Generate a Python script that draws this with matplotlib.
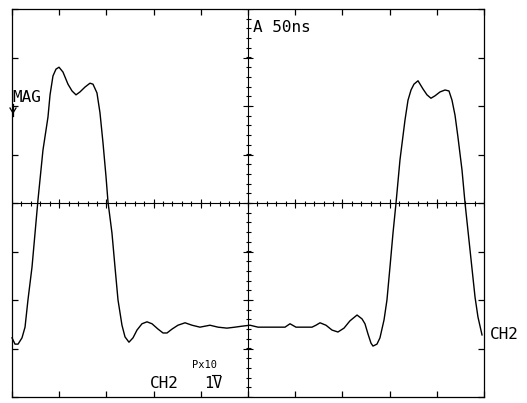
import numpy as np
import matplotlib
matplotlib.use("Agg")
import matplotlib.pyplot as plt

# Oscilloscope trace: time (ns) vs amplitude (V, 1 V/div)
t_ns = [0.0, 3.2, 6.4, 10.6, 13.8, 16.9, 21.2, 24.4, 27.5, 32.8, 38.1, 40.3, 43.4, 46.6,
        49.8, 54.0, 59.3, 63.6, 67.8, 72.0, 77.3, 82.6, 85.8, 90.0, 93.2, 96.4, 99.6,
        101.7, 105.9, 109.1, 112.3, 116.5, 119.7, 123.9, 128.2, 132.4, 137.7, 143.0,
        148.3, 154.7, 160.0, 164.2, 169.5, 175.8, 183.3, 190.7, 199.1, 204.4, 209.7,
        218.2, 227.7, 236.2, 243.6, 252.1, 260.6, 273.3, 289.2, 294.5, 300.8, 310.4,
        317.8, 322.0, 326.3, 332.6, 339.0, 345.3, 351.7, 358.0, 365.5, 370.8, 373.9,
        377.1, 380.3, 382.4, 386.6, 389.8, 394.1, 397.2, 400.4, 403.6, 406.8, 411.0,
        416.3, 419.5, 422.7, 425.8, 430.1, 435.4, 439.6, 443.8, 448.1, 453.4, 458.7,
        462.9, 466.1, 469.3, 472.4, 476.7, 479.9, 485.2, 490.5, 493.6, 497.9]
v_volts = [-2.78, -2.91, -2.91, -2.78, -2.56, -2.00, -1.32, -0.62, 0.06, 1.09, 1.77, 2.23,
           2.62, 2.76, 2.80, 2.70, 2.45, 2.31, 2.23, 2.29, 2.39, 2.47, 2.45, 2.27, 1.86,
           1.24, 0.54, 0.02, -0.62, -1.32, -2.00, -2.52, -2.76, -2.87, -2.78, -2.62,
           -2.49, -2.45, -2.49, -2.60, -2.68, -2.68, -2.60, -2.52, -2.47, -2.52, -2.56,
           -2.54, -2.52, -2.56, -2.58, -2.56, -2.54, -2.52, -2.56, -2.56, -2.56, -2.49,
           -2.56, -2.56, -2.56, -2.52, -2.47, -2.52, -2.62, -2.66, -2.58, -2.43, -2.31,
           -2.39, -2.49, -2.70, -2.89, -2.95, -2.91, -2.78, -2.41, -2.00, -1.32, -0.62,
           0.00, 0.89, 1.71, 2.12, 2.33, 2.45, 2.52, 2.35, 2.23, 2.16, 2.21, 2.29, 2.33,
           2.31, 2.12, 1.81, 1.36, 0.68, 0.00, -0.97, -1.94, -2.35, -2.72]

time_per_div = 50   # ns
volt_per_div = 1    # V
n_xdiv, n_ydiv = 10, 8

W, H = 527, 403
fig = plt.figure(figsize=(W / 100, H / 100), dpi=100)
fig.patch.set_facecolor("white")

# axes frame in pixel coords: x 12..484, y 9..397
ax = fig.add_axes([12 / W, 1 - 397 / H, (484 - 12) / W, (397 - 9) / H])
ax.set_facecolor("white")
xmax = n_xdiv * time_per_div
ymax = n_ydiv / 2 * volt_per_div
ax.set_xlim(0, xmax)
ax.set_ylim(-ymax, ymax)

for s in ax.spines.values():
    s.set_linewidth(0.9)
    s.set_color("black")

# frame ticks at each division, pointing inward, on all sides
ax.set_xticks(np.arange(0, xmax + 1, time_per_div))
ax.set_yticks(np.arange(-ymax, ymax + 0.01, volt_per_div))
ax.tick_params(which="major", direction="in", length=4, width=0.9,
               top=True, right=True, labelbottom=False, labelleft=False)

# centre graticule lines
ax.axhline(0, color="black", lw=0.8)
ax.axvline(xmax / 2, color="black", lw=0.8)

# minor and major ticks along the centre lines
dx_pix = (484 - 12) / xmax
dy_pix = (397 - 9) / (2 * ymax)
minor_x = np.arange(0, xmax + 0.1, time_per_div / 5)
major_x = np.arange(0, xmax + 0.1, time_per_div)
ax.vlines(minor_x, -2.5 / dy_pix, 2.5 / dy_pix, color="black", lw=0.8)
ax.vlines(major_x, -4.5 / dy_pix, 4.5 / dy_pix, color="black", lw=0.8)
minor_y = np.arange(-ymax, ymax + 0.01, volt_per_div / 5)
major_y = np.arange(-ymax, ymax + 0.01, volt_per_div)
ax.hlines(minor_y, xmax / 2 - 2.5 / dx_pix, xmax / 2 + 2.5 / dx_pix, color="black", lw=0.8)
ax.hlines(major_y, xmax / 2 - 5 / dx_pix, xmax / 2 + 5 / dx_pix, color="black", lw=0.8)

# trace
ax.plot(t_ns, v_volts, color="black", lw=1.0, clip_on=False)

mono = "DejaVu Sans Mono"


def ftext(px, py, s, size, **kw):
    fig.text(px / W, 1 - py / H, s, fontsize=size, family=mono,
             ha="left", va="baseline", color="black", **kw)


ftext(253, 32, "A 50ns", 11.5)
ftext(12, 102, "MAG", 11.5)
ftext(490, 339, "CH2", 11.5)
ftext(150, 388, "CH2", 11.5)
ftext(192, 368, "Px10", 7.5)
ftext(204, 388, "1V", 11)
# bar over the V
fig.add_artist(plt.Line2D([212 / W, 220 / W], [1 - 375 / H, 1 - 375 / H],
                          color="black", lw=0.8))
# MAG marker arrow
fig.add_artist(plt.Line2D([13 / W, 13 / W], [1 - 104 / H, 1 - 116 / H],
                          color="black", lw=0.9))
fig.add_artist(plt.Line2D([10 / W, 13 / W, 16 / W],
                          [1 - 108 / H, 1 - 113 / H, 1 - 108 / H],
                          color="black", lw=0.9))

fig.savefig("out.png", dpi=100, facecolor="white")
